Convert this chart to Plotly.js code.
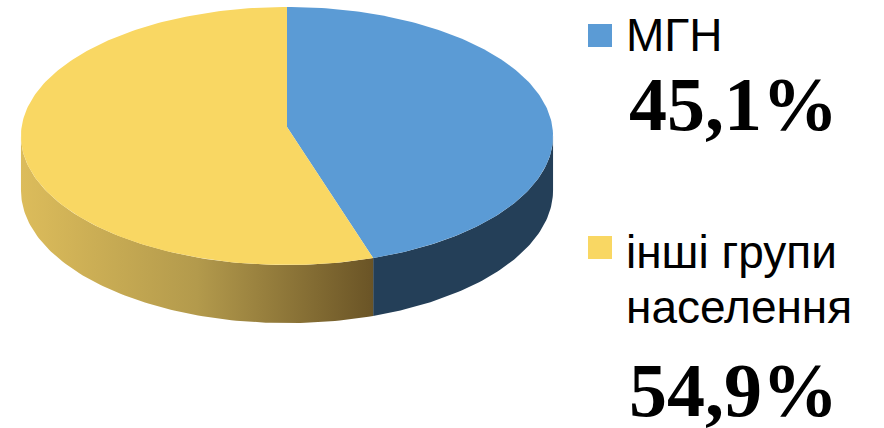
<!DOCTYPE html>
<html>
<head>
<meta charset="utf-8">
<script src="https://cdn.plot.ly/plotly-3.0.1.min.js"></script>
<style>html,body{margin:0;padding:0;background:#fff;}#chart{width:884px;height:428px;}</style>
</head>
<body>
<div id="chart"></div>
<script>
// ---- data ----
const categories = ['МГН', 'інші групи населення'];
const categoryLines = [['МГН'], ['інші групи', 'населення']];
const shares = [45.1, 54.9];
const shareLabels = ['45,1%', '54,9%'];
const topColors = ['#5b9bd5', '#f9d763'];

// ---- geometry / style (not data) ----
const W = 884, H = 428;
// perspective-projected disc: vertex (cx, cy), horizontal radius A, depth radius B, perspective k, thickness D
const G = {cx: 287, cy: 127, A: 265.4, B: 128.4, k: 0.0698, D: 54};
const sideStyles = [
  {color: '#243f58'},
  {gradient: [[0, '#dcbc5b'], [0.5, '#b39a4c'], [1, '#6a5426']]}
];

function pt(deg, bottom) {
  const r = deg * Math.PI / 180;
  const u = Math.sin(r), v = -Math.cos(r);
  const w = 1 - G.k * v;
  return [G.cx + G.A * u / w, G.cy + G.B * v / w + (bottom ? G.D / w : 0)];
}
function arc(a, b, bottom) {
  const out = [];
  const n = Math.max(2, Math.ceil(Math.abs(b - a) / 1));
  for (let i = 0; i <= n; i++) out.push(pt(a + (b - a) * i / n, bottom));
  return out;
}

const total = shares.reduce((s, v) => s + v, 0);
let start = 0;
const slices = shares.map(v => {
  const a = start, b = start + v / total * 360;
  start = b;
  return [a, b];
});

const edge = Math.asin(G.k) * 180 / Math.PI;
const traces = [];
// sides (front half only)
slices.forEach(([a, b], i) => {
  const s = Math.max(a, 90 + edge), e = Math.min(b, 270 - edge);
  if (e <= s) return;
  const top = arc(s, e, false);
  const bot = arc(e, s, true);
  const pts = top.concat(bot);
  pts.push(top[0]);
  const t = {
    type: 'scatter', mode: 'lines', fill: 'toself',
    x: pts.map(p => p[0]), y: pts.map(p => p[1]),
    line: {width: 0}, hoverinfo: 'skip', showlegend: false
  };
  if (sideStyles[i].gradient) {
    t.fillgradient = {type: 'horizontal', colorscale: sideStyles[i].gradient};
    t.fillcolor = sideStyles[i].gradient[0][1];
  } else {
    t.fillcolor = sideStyles[i].color;
  }
  traces.push(t);
});
// tops
slices.forEach(([a, b], i) => {
  const pts = [[G.cx, G.cy]].concat(arc(a, b, false));
  pts.push([G.cx, G.cy]);
  traces.push({
    type: 'scatter', mode: 'lines', fill: 'toself',
    x: pts.map(p => p[0]), y: pts.map(p => p[1]),
    fillcolor: topColors[i], line: {width: 0},
    hoverinfo: 'skip', showlegend: false, name: categories[i]
  });
});

// legend / labels
const legendPos = [
  {sq: [588, 24, 612, 47], lines: [35], pct: 104},
  {sq: [588, 236, 612, 259], lines: [252, 307], pct: 390}
];
const shapes = [], annotations = [];
const sans = 'Liberation Sans, Arial, sans-serif';
const serif = 'Liberation Serif, Times New Roman, serif';
categoryLines.forEach((lines, i) => {
  const p = legendPos[i];
  shapes.push({type: 'rect', xref: 'x', yref: 'y', x0: p.sq[0], y0: p.sq[1], x1: p.sq[2], y1: p.sq[3],
    fillcolor: topColors[i], line: {width: 0}});
  lines.forEach((ln, j) => {
    annotations.push({xref: 'x', yref: 'y', x: 624, y: p.lines[j], xanchor: 'left', yanchor: 'middle',
      text: ln, showarrow: false, font: {family: sans, size: 46, color: '#000'}});
  });
  annotations.push({xref: 'x', yref: 'y', x: 733, y: p.pct, xanchor: 'center', yanchor: 'middle',
    text: '<b>' + shareLabels[i] + '</b>', showarrow: false,
    font: {family: serif, size: 76, color: '#000'}});
});

const layout = {
  width: W, height: H,
  margin: {l: 0, r: 0, t: 0, b: 0},
  paper_bgcolor: '#fff', plot_bgcolor: '#fff',
  xaxis: {range: [0, W], visible: false, fixedrange: true},
  yaxis: {range: [H, 0], visible: false, fixedrange: true},
  shapes: shapes, annotations: annotations, showlegend: false
};
Plotly.newPlot('chart', traces, layout, {staticPlot: true, displayModeBar: false});
</script>
</body>
</html>
